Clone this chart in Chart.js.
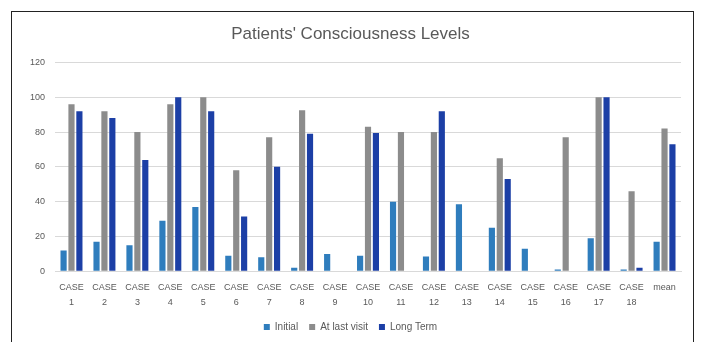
<!DOCTYPE html>
<html>
<head>
<meta charset="utf-8">
<script src="https://cdn.jsdelivr.net/npm/chart.js@4"></script>
<style>
  body { margin: 0; background: #fff; }
  #wrap { position: relative; width: 703px; height: 342px; }
  #frame { position: absolute; left: 11px; top: 11px; width: 681px; height: 340px; border: 1px solid #222; pointer-events: none; }
</style>
</head>
<body>
<div id="wrap">
  <canvas id="chart" width="703" height="342"></canvas>
  <div id="frame"></div>
</div>
<script>
const CASES = [
  ['CASE', '1'], ['CASE', '2'], ['CASE', '3'], ['CASE', '4'], ['CASE', '5'],
  ['CASE', '6'], ['CASE', '7'], ['CASE', '8'], ['CASE', '9'], ['CASE', '10'],
  ['CASE', '11'], ['CASE', '12'], ['CASE', '13'], ['CASE', '14'], ['CASE', '15'],
  ['CASE', '16'], ['CASE', '17'], ['CASE', '18'], 'mean'
];
const INITIAL = [12, 17, 15, 29, 37, 9, 8, 2, 10, 9, 40, 8.5, 38.5, 25, 13, 1, 19, 1, 17];
const AT_LAST_VISIT = [96, 92, 80, 96, 100, 58, 77, 92.5, 0, 83, 80, 80, 0, 65, 0, 77, 100, 46, 82];
const LONG_TERM = [92, 88, 64, 100, 92, 31.5, 60, 79, 0, 79.5, 0, 92, 0, 53, 0, 0, 100, 2, 73];

const FONT = 'Liberation Sans';
const TEXT = '#595959';

new Chart(document.getElementById('chart'), {
  type: 'bar',
  data: {
    labels: CASES,
    datasets: [
      { label: 'Initial', data: INITIAL, backgroundColor: '#2f7dbd' },
      { label: 'At last visit', data: AT_LAST_VISIT, backgroundColor: '#8c8c8c' },
      { label: 'Long Term', data: LONG_TERM, backgroundColor: '#1c3fa6' },
    ],
  },
  options: {
    responsive: false,
    animation: false,
    categoryPercentage: 0.72,
    barPercentage: 0.78,
    layout: {
      padding: { left: 20, right: 22, top: 0, bottom: 0 },
    },
    plugins: {
      title: {
        display: true,
        text: "Patients' Consciousness Levels",
        color: TEXT,
        font: { family: FONT, size: 17, weight: 'normal' },
        padding: { top: 24, bottom: 18 },
      },
      legend: {
        position: 'bottom',
        labels: {
          color: TEXT,
          boxWidth: 6,
          boxHeight: 6,
          padding: 11,
          font: { family: FONT, size: 10 },
        },
      },
      tooltip: { enabled: false },
    },
    scales: {
      x: {
        grid: { display: false },
        border: { color: '#d9d9d9' },
        ticks: {
          color: TEXT,
          maxRotation: 0,
          autoSkip: false,
          padding: 1,
          font: { family: FONT, size: 9, lineHeight: 1.65 },
        },
      },
      y: {
        min: 0,
        max: 120,
        ticks: {
          stepSize: 20,
          color: TEXT,
          padding: 10,
          font: { family: FONT, size: 9 },
        },
        grid: { color: '#d9d9d9', drawTicks: false },
        border: { display: false },
      },
    },
  },
});
</script>
</body>
</html>
